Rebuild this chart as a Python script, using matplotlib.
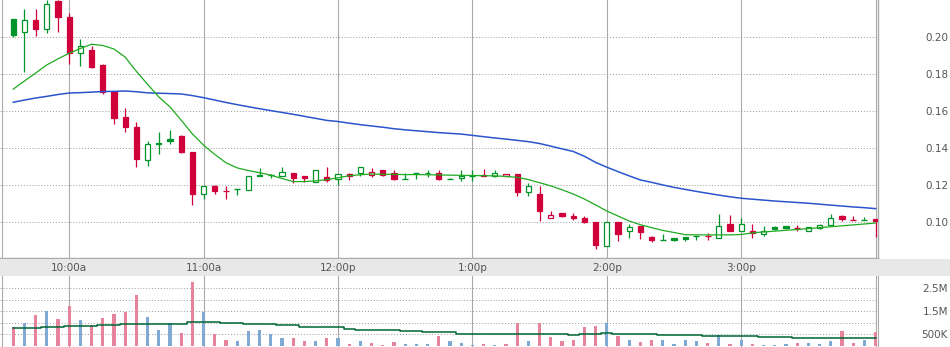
import numpy as np
import matplotlib.pyplot as plt
from matplotlib.transforms import blended_transform_factory

# 5分钟K线：09:35 ~ 16:00，每根一个槽位（09:30 之后第 n 个 5 分钟）
opens = [0.2097, 0.2025, 0.2092, 0.2043, 0.2195, 0.2110, 0.1912, 0.1930, 0.1849, 0.1703,
         0.1568, 0.1514, 0.1337, 0.1427, 0.1449, 0.1466, 0.1378, 0.1150, 0.1196, 0.1166,
         0.1178, 0.1171, 0.1255, 0.1252, 0.1249, 0.1265, 0.1247, 0.1215, 0.1241, 0.1231,
         0.1259, 0.1263, 0.1253, 0.1280, 0.1265, 0.1233, 0.1263, 0.1265, 0.1265, 0.1233,
         0.1236, 0.1250, 0.1252, 0.1248, 0.1251, 0.1259, 0.1160, 0.1151, 0.1020, 0.1047,
         0.1032, 0.1020, 0.1000, 0.0872, 0.1000, 0.0950, 0.0978, 0.0921, 0.0904, 0.0912,
         0.0917, 0.0926, 0.0924, 0.0915, 0.0988, 0.0950, 0.0951, 0.0935, 0.0973, 0.0978,
         0.0966, 0.0951, 0.0969, 0.0982, 0.1032, 0.1009, 0.1010, 0.1014]
highs = [0.2097, 0.2151, 0.2151, 0.2200, 0.2200, 0.2128, 0.1989, 0.1953, 0.1854, 0.1703,
         0.1616, 0.1541, 0.1436, 0.1486, 0.1497, 0.1470, 0.1378, 0.1195, 0.1199, 0.1196,
         0.1178, 0.1250, 0.1290, 0.1258, 0.1296, 0.1265, 0.1247, 0.1280, 0.1296, 0.1258,
         0.1266, 0.1296, 0.1290, 0.1280, 0.1280, 0.1263, 0.1263, 0.1280, 0.1280, 0.1236,
         0.1280, 0.1280, 0.1285, 0.1280, 0.1259, 0.1259, 0.1212, 0.1196, 0.1059, 0.1050,
         0.1047, 0.1034, 0.1000, 0.1000, 0.1000, 0.0989, 0.0978, 0.0926, 0.0935, 0.0914,
         0.0919, 0.0926, 0.0939, 0.1043, 0.1036, 0.1020, 0.0988, 0.0977, 0.0978, 0.0978,
         0.0983, 0.0975, 0.0991, 0.1043, 0.1036, 0.1034, 0.1029, 0.1016]
lows = [0.1999, 0.1812, 0.2007, 0.2023, 0.2027, 0.1854, 0.1845, 0.1832, 0.1692, 0.1530,
        0.1488, 0.1299, 0.1304, 0.1368, 0.1423, 0.1373, 0.1094, 0.1126, 0.1151, 0.1124,
        0.1148, 0.1171, 0.1247, 0.1240, 0.1249, 0.1209, 0.1216, 0.1215, 0.1216, 0.1198,
        0.1227, 0.1247, 0.1242, 0.1247, 0.1227, 0.1233, 0.1231, 0.1242, 0.1227, 0.1231,
        0.1220, 0.1220, 0.1246, 0.1241, 0.1251, 0.1142, 0.1142, 0.1007, 0.1020, 0.1025,
        0.1013, 0.0993, 0.0856, 0.0872, 0.0899, 0.0915, 0.0908, 0.0892, 0.0904, 0.0897,
        0.0899, 0.0904, 0.0903, 0.0915, 0.0950, 0.0950, 0.0915, 0.0924, 0.0957, 0.0962,
        0.0950, 0.0951, 0.0964, 0.0982, 0.1007, 0.1009, 0.1010, 0.0921]
closes = [0.2011, 0.2092, 0.2043, 0.2178, 0.2110, 0.1912, 0.1950, 0.1838, 0.1703, 0.1564,
          0.1515, 0.1342, 0.1420, 0.1422, 0.1438, 0.1378, 0.1153, 0.1195, 0.1169, 0.1165,
          0.1178, 0.1247, 0.1251, 0.1252, 0.1270, 0.1238, 0.1236, 0.1280, 0.1227, 0.1258,
          0.1249, 0.1296, 0.1270, 0.1253, 0.1232, 0.1233, 0.1263, 0.1264, 0.1232, 0.1233,
          0.1249, 0.1250, 0.1248, 0.1263, 0.1259, 0.1164, 0.1195, 0.1061, 0.1038, 0.1034,
          0.1023, 0.1000, 0.0876, 0.1000, 0.0937, 0.0975, 0.0947, 0.0903, 0.0904, 0.0905,
          0.0907, 0.0926, 0.0924, 0.0977, 0.0953, 0.0988, 0.0940, 0.0950, 0.0964, 0.0969,
          0.0966, 0.0975, 0.0982, 0.1023, 0.1016, 0.1009, 0.1010, 0.1004]

# 短期/长期均线
ma_short = [0.1718, 0.1762, 0.1805, 0.1849, 0.1882, 0.1912, 0.1938, 0.1961, 0.1954, 0.1935,
            0.1891, 0.1814, 0.1744, 0.1676, 0.1622, 0.1550, 0.1476, 0.1415, 0.1365, 0.1320,
            0.1292, 0.1278, 0.1266, 0.1253, 0.1235, 0.1218, 0.1218, 0.1222, 0.1229, 0.1239,
            0.1250, 0.1255, 0.1259, 0.1258, 0.1257, 0.1256, 0.1256, 0.1255, 0.1254, 0.1253,
            0.1252, 0.1251, 0.1250, 0.1249, 0.1246, 0.1241, 0.1229, 0.1212, 0.1195, 0.1174,
            0.1151, 0.1124, 0.1092, 0.1059, 0.1032, 0.1005, 0.0985, 0.0969, 0.0954, 0.0943,
            0.0931, 0.0930, 0.0930, 0.0930, 0.0930, 0.0932, 0.0941, 0.0946, 0.0950, 0.0955,
            0.0959, 0.0964, 0.0969, 0.0974, 0.0979, 0.0984, 0.0989, 0.0994]
ma_long = [0.1647, 0.1659, 0.1670, 0.1679, 0.1689, 0.1697, 0.1699, 0.1702, 0.1705, 0.1706,
           0.1708, 0.1704, 0.1698, 0.1696, 0.1694, 0.1692, 0.1683, 0.1672, 0.1659, 0.1646,
           0.1634, 0.1623, 0.1612, 0.1602, 0.1592, 0.1582, 0.1571, 0.1560, 0.1549, 0.1543,
           0.1534, 0.1526, 0.1519, 0.1512, 0.1504, 0.1498, 0.1493, 0.1488, 0.1483, 0.1479,
           0.1475, 0.1468, 0.1461, 0.1454, 0.1448, 0.1441, 0.1434, 0.1424, 0.1410, 0.1395,
           0.1381, 0.1355, 0.1322, 0.1296, 0.1272, 0.1249, 0.1227, 0.1214, 0.1200, 0.1187,
           0.1176, 0.1165, 0.1155, 0.1145, 0.1136, 0.1128, 0.1123, 0.1118, 0.1113, 0.1109,
           0.1105, 0.1101, 0.1096, 0.1091, 0.1086, 0.1081, 0.1077, 0.1072]

# 成交量（千股）及其均线
volumes_k = [832, 991, 1336, 1509, 1164, 1724, 1121, 905, 1220, 1379,
             1478, 2198, 1250, 690, 978, 560, 2771, 1465, 517, 259,
             216, 647, 690, 517, 345, 345, 216, 216, 345, 345,
             86, 216, 142, 43, 172, 86, 86, 86, 444, 216,
             142, 43, 86, 43, 86, 991, 216, 991, 401, 216,
             259, 819, 875, 991, 444, 259, 172, 259, 259, 86,
             259, 216, 129, 474, 86, 259, 86, 43, 43, 86,
             129, 129, 86, 216, 647, 129, 259, 603]
vol_ma_k = [789, 789, 789, 832, 832, 875, 875, 875, 905, 905,
            961, 961, 961, 961, 961, 935, 1021, 1021, 1021, 978,
            978, 935, 935, 935, 892, 892, 832, 806, 806, 806,
            733, 677, 677, 677, 677, 634, 634, 590, 590, 590,
            530, 530, 504, 504, 504, 504, 504, 504, 504, 504,
            461, 504, 504, 547, 504, 504, 504, 504, 461, 461,
            461, 461, 418, 418, 418, 418, 418, 388, 388, 388,
            332, 332, 332, 332, 332, 332, 332, 332]

hour_labels = ['10:00a', '11:00a', '12:00p', '1:00p', '2:00p', '3:00p']
price_ticks = [0.10, 0.12, 0.14, 0.16, 0.18, 0.20]
vol_ticks = [500e3, 1.0e6, 1.5e6, 2.0e6, 2.5e6]
vol_tick_labels = ['500K', '', '1.5M', '', '2.5M']

GREEN = '#00952a'
RED = '#d0003a'
GRID = '#aaaaaa'
TEXT = '#555555'

o = np.array(opens)
h = np.array(highs)
l = np.array(lows)
c = np.array(closes)
n = len(c)
slots = np.arange(1, n + 1)            # 09:35 = 1, 16:00 = 78
hour_slots = np.arange(0, 79, 12) + 6  # 10:00 ... 16:00
hour_slots = np.r_[0, hour_slots]       # 加上 09:30

up = np.r_[True, c[1:] >= c[:-1]]       # 与前收盘比较决定颜色
vol_up = up.copy()
vol_up[0] = c[0] >= o[0]
colors = np.where(up, GREEN, RED)

W, H = 950, 347


def box(x0, y0, x1, y1):
    return [x0 / W, 1 - y1 / H, (x1 - x0) / W, (y1 - y0) / H]


fig = plt.figure(figsize=(W / 100, H / 100), dpi=100)
ax = fig.add_axes(box(0, 0, 878, 258))
band = fig.add_axes(box(0, 259, 950, 276))
axv = fig.add_axes(box(0, 276, 878, 347))

xlim = (-2 / 11.2, 876 / 11.2)

# ---- 价格面板 ----
for s in hour_slots:
    ax.axvline(s, color=GRID, lw=0.8, zorder=0)
for p in price_ticks:
    ax.axhline(p, color='#999999', lw=0.7, ls=(0, (1, 2)), zorder=0)

ax.vlines(slots, l, h, colors=colors, lw=0.9, zorder=2)
body_w = 0.45
for i in range(n):
    lo, hi = min(o[i], c[i]), max(o[i], c[i])
    if hi - lo < 1e-6:
        ax.hlines(c[i], slots[i] - body_w / 2 - 0.05, slots[i] + body_w / 2 + 0.05,
                  colors=colors[i], lw=1.0, zorder=3)
        continue
    face = colors[i] if c[i] < o[i] else 'white'
    ax.add_patch(plt.Rectangle((slots[i] - body_w / 2, lo), body_w, hi - lo,
                               facecolor=face, edgecolor=colors[i], lw=0.9, zorder=3))

ax.plot(slots, ma_long, color='#2a55cc', lw=1.1, zorder=4)
ax.plot(slots, ma_short, color='#1faa1f', lw=0.9, zorder=4)

ax.set_xlim(*xlim)
ax.set_ylim(0.0805, 0.2200)
ax.set_xticks([])
ax.yaxis.tick_right()
ax.set_yticks(price_ticks)
ax.set_yticklabels(['%.2f' % p for p in price_ticks], ha='right')
ax.tick_params(axis='y', length=0, pad=50.4, labelsize=7.5, labelcolor=TEXT)
for side in ('left', 'top'):
    ax.spines[side].set_visible(False)
for side in ('right', 'bottom'):
    ax.spines[side].set_color(GRID)
    ax.spines[side].set_linewidth(1.0)

# ---- 时间轴带 ----
band.set_facecolor('#e8e8e8')
band.set_xlim(xlim[0], xlim[0] + 950 / 11.2)
band.set_ylim(0, 1)
for s, lab in zip(hour_slots[1:-1], hour_labels):
    band.text(s, 0.45, lab, ha='center', va='center', fontsize=7.5, color=TEXT)
band.set_xticks([])
band.set_yticks([])
for side in band.spines:
    band.spines[side].set_visible(False)

# ---- 成交量面板 ----
vols = np.array(volumes_k) * 1e3
for s in hour_slots:
    axv.axvline(s, color=GRID, lw=0.8, zorder=0)
for v in vol_ticks:
    axv.axhline(v, color='#999999', lw=0.7, ls=(0, (1, 2)), zorder=0)
axv.bar(slots, vols, width=0.27, color=np.where(vol_up, '#80aad4', '#e8839c'), zorder=2)
axv.plot(slots, np.array(vol_ma_k) * 1e3, color='#006633', lw=1.1,
         drawstyle='steps-mid', zorder=3)
axv.set_xlim(*xlim)
axv.set_ylim(-43e3, 3017e3)
axv.set_xticks([])
axv.yaxis.tick_right()
axv.set_yticks(vol_ticks)
axv.set_yticklabels(vol_tick_labels, ha='right')
axv.tick_params(axis='y', length=0, pad=50.4, labelsize=7.5, labelcolor=TEXT)
for side in ('left', 'top', 'bottom'):
    axv.spines[side].set_visible(False)
axv.spines['right'].set_color(GRID)

fig.savefig('out.png', dpi=100)
